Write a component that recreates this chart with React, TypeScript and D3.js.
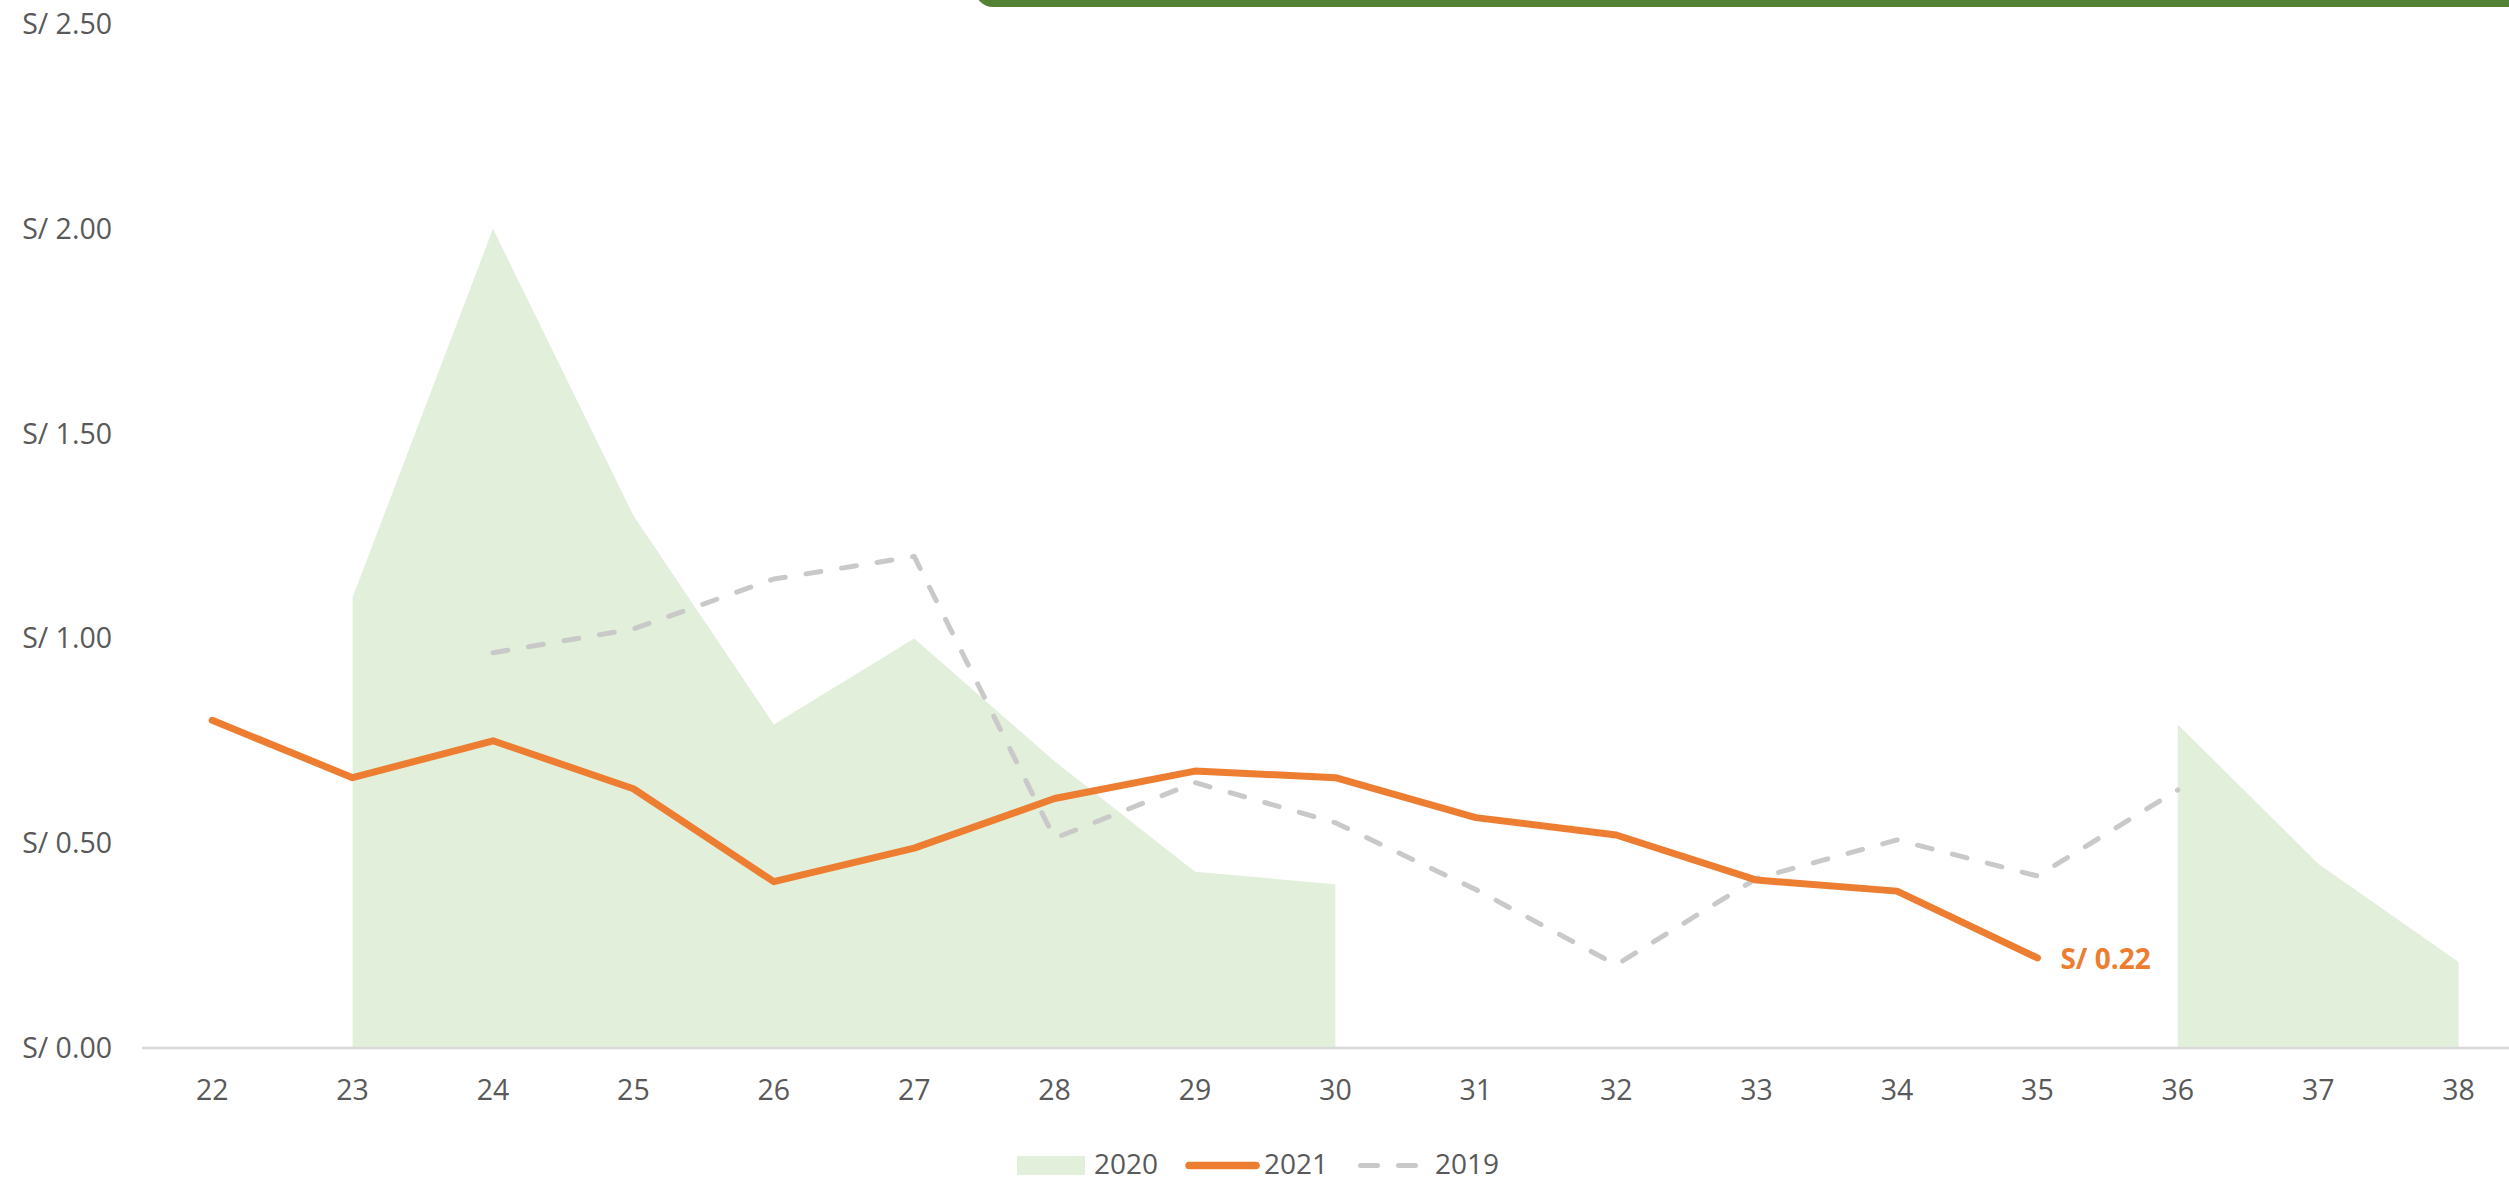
import React, { useEffect } from "react";
import * as d3 from "d3";

const weeks = ["22","23","24","25","26","27","28","29","30","31","32","33","34","35","36","37","38"];
const s2020: (number | null)[] = [null, 1.10, 2.00, 1.30, 0.79, 1.00, 0.70, 0.43, 0.40, null, null, null, null, null, 0.79, 0.45, 0.21];
const s2021: (number | null)[] = [0.80, 0.66, 0.75, 0.633, 0.406, 0.488, 0.609, 0.676, 0.66, 0.5625, 0.52, 0.41, 0.383, 0.22, null, null, null];
const s2019: (number | null)[] = [null, null, 0.965, 1.023, 1.145, 1.20, 0.512, 0.648, 0.55, 0.387, 0.203, 0.414, 0.508, 0.42, 0.63, null, null];
const yTicks = [0, 0.5, 1.0, 1.5, 2.0, 2.5];
const legendItems = ["2020", "2021", "2019"];

const W = 2509;
const H = 1182;
const FONT = "'Open Sans', 'Noto Sans', sans-serif";
const TXT = "#595959";

export default function App() {
  useEffect(() => {
    document.body.style.margin = "0";
  }, []);

  const x = d3.scaleBand<string>().domain(weeks).range([142, 142 + 17 * 140.4]).paddingInner(0).paddingOuter(0);
  const cx = (w: string) => (x(w) as number) + x.bandwidth() / 2;
  const y = d3.scaleLinear().domain([0, 2.5]).range([1048, 24]);

  const idx = weeks.map((w, i) => i);
  const area = d3.area<number>()
    .defined((i) => s2020[i] != null)
    .x((i) => cx(weeks[i]))
    .y0(y(0))
    .y1((i) => y(s2020[i] as number));
  const line21 = d3.line<number>()
    .defined((i) => s2021[i] != null)
    .x((i) => cx(weeks[i]))
    .y((i) => y(s2021[i] as number));
  const line19 = d3.line<number>()
    .defined((i) => s2019[i] != null)
    .x((i) => cx(weeks[i]))
    .y((i) => y(s2019[i] as number));

  const fmt = d3.format(".2f");
  const lastIdx = 13;

  return (
    <svg width={W} height={H} style={{ display: "block", background: "#fff" }} fontFamily={FONT}>
      {/* top decorative bar */}
      <rect x={975} y={-30} width={1600} height={37} rx={18} fill="#548235" />

      {/* 2020 area */}
      <path d={area(idx) || ""} fill="#E2EFDA" />

      {/* x axis line */}
      <line x1={142} x2={W} y1={y(0)} y2={y(0)} stroke="#D9D9D9" strokeWidth={2.5} />

      {/* 2019 dashed */}
      <path d={line19(idx) || ""} fill="none" stroke="#C9C9C9" strokeWidth={5}
        strokeDasharray="15 21" strokeLinecap="round" strokeLinejoin="round" />

      {/* 2021 line */}
      <path d={line21(idx) || ""} fill="none" stroke="#ED7D31" strokeWidth={7}
        strokeLinecap="round" strokeLinejoin="round" />

      {/* data label */}
      <text x={cx(weeks[lastIdx]) + 23} y={y(s2021[lastIdx] as number) + 11} fill="#ED7D31"
        fontSize={28} fontWeight="bold">{"S/ " + fmt(s2021[lastIdx] as number)}</text>

      {/* y tick labels */}
      {yTicks.map((t) => (
        <text key={t} x={112} y={y(t)} dy="0.35em" textAnchor="end" fontSize={28.5} fill={TXT}>
          {"S/ " + fmt(t)}
        </text>
      ))}

      {/* x tick labels */}
      {weeks.map((w) => (
        <text key={w} x={cx(w)} y={1100} textAnchor="middle" fontSize={28.5} fill={TXT}>{w}</text>
      ))}

      {/* legend */}
      <g>
        <rect x={1017} y={1156} width={68} height={19} fill="#E2EFDA" />
        <text x={1094} y={1174} fontSize={28} fill={TXT}>{legendItems[0]}</text>
        <line x1={1189} x2={1256} y1={1165.5} y2={1165.5} stroke="#ED7D31" strokeWidth={7.5} strokeLinecap="round" />
        <text x={1264} y={1174} fontSize={28} fill={TXT}>{legendItems[1]}</text>
        <line x1={1360.5} x2={1418} y1={1165.5} y2={1165.5} stroke="#C9C9C9" strokeWidth={5}
          strokeDasharray="17 21" strokeLinecap="round" />
        <text x={1435} y={1174} fontSize={28} fill={TXT}>{legendItems[2]}</text>
      </g>
    </svg>
  );
}
